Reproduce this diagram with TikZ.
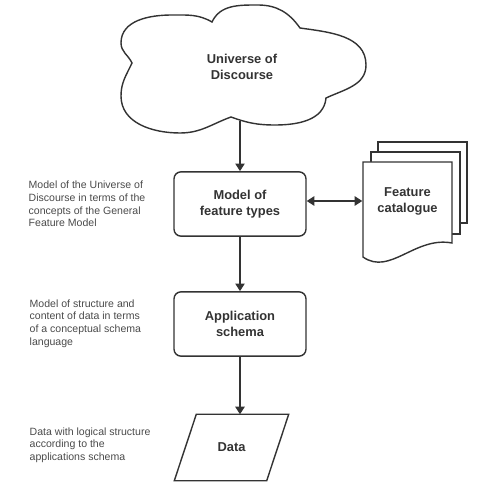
\documentclass[tikz,border=0pt]{standalone}
\usepackage{fontspec}
\setmainfont{Liberation Sans}
\usetikzlibrary{arrows.meta}
\definecolor{ink}{HTML}{333333}
\definecolor{note}{HTML}{4A4A4A}
\begin{document}
\begin{tikzpicture}[x=0.03cm,y=0.03cm,color=ink,line width=1.2pt,
  conn/.style={-{Triangle[length=6.5pt,width=8pt]}},
  both/.style={{Triangle[length=6.5pt,width=8pt]}-{Triangle[length=6.5pt,width=8pt]}},
  title/.style={align=center,font=\fontsize{11}{13.6}\selectfont\bfseries},
  stage/.style={title,draw,rounded corners=6pt,minimum width=3.96cm,minimum height=1.93cm},
  remark/.style={anchor=north west,inner sep=0pt,align=left,text=note,font=\fontsize{9}{10.8}\selectfont},
  page/.style={draw,fill=white}]
       \useasboundingbox(0,0)rectangle(486,498);
       % cloud outline
       \coordinate(A)at(132,435);
       \coordinate(L1)at(121,455);
       \coordinate(T1)at(172,483);
       \coordinate(B)at(212,476);
       \coordinate(T2)at(258,493);
       \coordinate(C)at(300,470);
       \coordinate(R)at(366,433);
       \coordinate(D)at(326,400);
       \coordinate(B1)at(275,373);
       \coordinate(E)at(231,381);
       \coordinate(B2)at(180,365);
       \coordinate(L2)at(121,402);
       \coordinate(uodbottom)at(240,377);
       \draw[fill=white](A)to[out=115,in=-90](L1)to[out=90,in=180](T1)to[out=0,in=150](B)
            to[out=65,in=180](T2)to[out=0,in=125](C)to[out=-8,in=90](R)to[out=-90,in=25](D)
            to[out=-95,in=0](B1)to[out=180,in=-20](E)to[out=-160,in=0](B2)to[out=180,in=-90](L2)
            to[out=90,in=-115](A)--cycle;
       \node[title](uod)at(242,431){Universe of\\Discourse};
       % stages
       \node[stage](types)at(240,294){Model of\\feature types};
       \node[stage](app)at(240,174){Application\\schema};
       \node[title,minimum width=2.73cm,minimum height=1.95cm](data)at(231.5,50.5){Data};
       \draw([xshift=-0.33cm]data.south west)--([xshift=0.33cm]data.north west)
            --([xshift=0.33cm]data.north east)--([xshift=-0.33cm]data.south east)--cycle;
       % feature catalogue pages
       \draw[page](378,275)rectangle(467,356);
       \draw[page](371,264)rectangle(460,346);
       \draw[page](363,241)--(363,336)--(452,336)--(452,255)..controls(415,262)and(390,222)..(363,241)--cycle;
       \node[title,inner sep=0pt,minimum width=2.67cm](catalogue)at(407.5,297){Feature\\catalogue};
       % connectors
       \draw[conn](uodbottom)--(types.north);
       \draw[conn](types)--(app);
       \draw[conn](app.south)--(app.south|-data.north);
       \draw[both](types.east|-catalogue.west)--(catalogue.west);
       % notes
       \node[remark](uodnote)at(28,317.5){Model of the Universe of\\Discourse in terms of the\\concepts of the General\\Feature Model};
       \node[remark](appnote)at(29,199){Model of structure and\\content of data in terms\\of a conceptual schema\\language};
       \node[remark](datanote)at(29,71.3){Data with logical structure\\according to the\\applications schema};
\end{tikzpicture}
\end{document}
